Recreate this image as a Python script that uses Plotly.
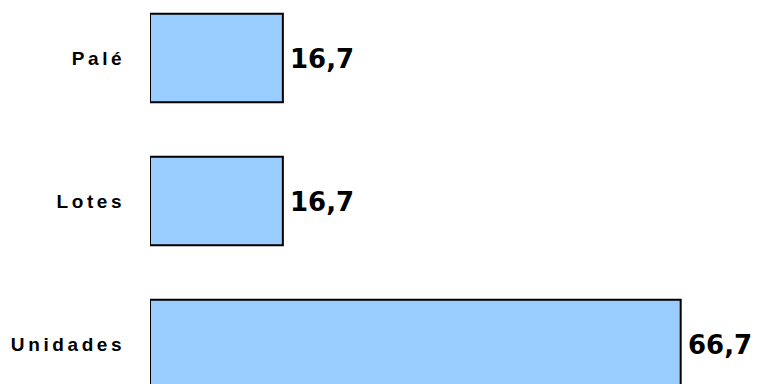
import plotly.graph_objects as go

categories = ["Unidades", "Lotes", "Palé"]
values = [66.7, 16.7, 16.7]
value_labels = [f"{v:.1f}".replace(".", ",") for v in values]
bar_color = "#99CCFF"

ticktext = ['<span style="letter-spacing:3.6px;font-weight:bold">%s</span>' % c for c in categories]

fig = go.Figure(go.Bar(
    y=categories,
    x=values,
    orientation="h",
    marker=dict(color=bar_color, line=dict(color="black", width=2)),
    cliponaxis=False,
    hoverinfo="skip",
))

for c, v, t in zip(categories, values, value_labels):
    fig.add_annotation(
        x=v, y=c, text=t, showarrow=False,
        xanchor="left", yanchor="middle", xshift=5, yshift=-1,
        font=dict(family="DejaVu Sans", size=26, color="black", weight="bold"),
    )

fig.update_layout(
    width=761, height=384,
    margin=dict(l=142, r=0, t=0, b=0),
    paper_bgcolor="white", plot_bgcolor="white",
    bargap=0.38,
    showlegend=False,
    xaxis=dict(range=[0, 77.8], visible=False),
    yaxis=dict(
        range=[-0.3357, 2.3497],
        tickvals=categories, ticktext=ticktext,
        showgrid=False, zeroline=False, showline=False,
        ticks="outside", ticklen=20, tickcolor="rgba(0,0,0,0)",
        tickfont=dict(family="Liberation Sans", size=19, color="black", weight="bold"),
        automargin=False,
    ),
)

fig.write_html("out.html")
